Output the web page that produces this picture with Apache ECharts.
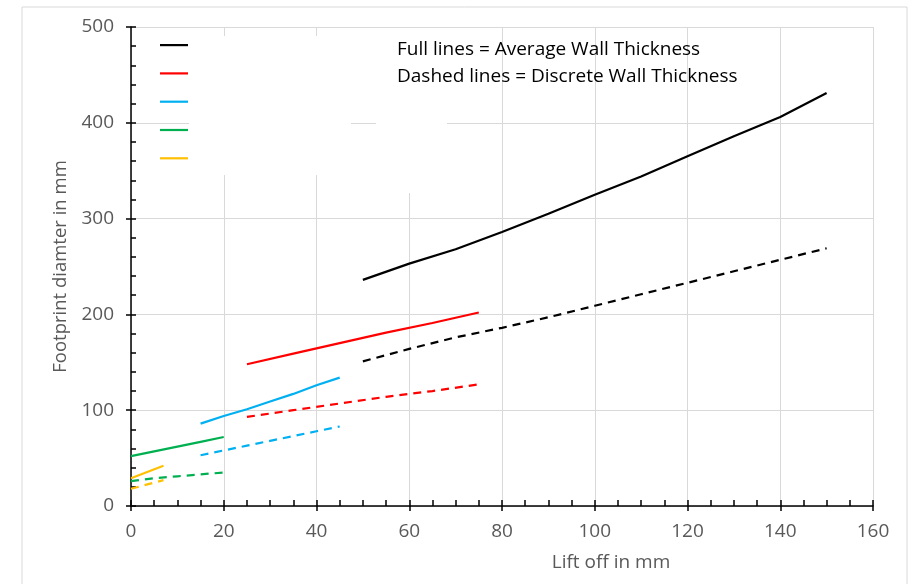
<!DOCTYPE html>
<html>
<head>
<meta charset="utf-8">
<script src="https://cdn.jsdelivr.net/npm/echarts@6/dist/echarts.min.js"></script>
<style>html,body{margin:0;padding:0;background:#fff}#c{width:910px;height:584px}</style>
</head>
<body>
<div id="c"></div>
<script>
// ---- data ----
const xTicks = [0, 20, 40, 60, 80, 100, 120, 140, 160];
const yTicks = [0, 100, 200, 300, 400, 500];

const liftBlack = [50, 60, 70, 80, 90, 100, 110, 120, 130, 140, 150];
const blackAvg  = [236, 253, 268, 286, 305, 325, 344, 365, 386, 406, 431];
const blackDisc = [151, 164, 176, 186, 197, 209, 221, 233, 245, 257, 269];

const liftRed = [25, 35, 45, 55, 65, 75];
const redAvg  = [148, 159, 170, 181, 191, 202];
const redDisc = [93, 100, 107, 114, 120, 127];

const liftBlue = [15, 20, 25, 30, 35, 40, 45];
const blueAvg  = [86, 94, 101, 109, 117, 126, 134];
const blueDisc = [53, 58, 63, 68, 73, 78, 83];

const liftGreen = [0, 5, 10, 15, 20];
const greenAvg  = [52, 57, 62, 67, 72];
const greenDisc = [26, 29, 31, 33, 35];

const liftYellow = [0, 7];
const yellowAvg  = [29, 42];
const yellowDisc = [18, 27];

const noteLines = ['Full lines = Average Wall Thickness', 'Dashed lines = Discrete Wall Thickness'];
const xName = 'Lift off in mm';
const yName = 'Footprint diamter in mm';

// ---- build ----
const pairs = (xs, ys) => xs.map((x, i) => [x, ys[i]]);
const groups = [
  {key: 'Black',  color: '#000000', x: liftBlack,  avg: blackAvg,  disc: blackDisc},
  {key: 'Red',    color: '#ff0000', x: liftRed,    avg: redAvg,    disc: redDisc},
  {key: 'Blue',   color: '#00b0f0', x: liftBlue,   avg: blueAvg,   disc: blueDisc},
  {key: 'Green',  color: '#00b050', x: liftGreen,  avg: greenAvg,  disc: greenDisc},
  {key: 'Yellow', color: '#ffc000', x: liftYellow, avg: yellowAvg, disc: yellowDisc}
];
const series = [];
groups.forEach(g => {
  series.push({name: g.key + ' average', type: 'line', symbol: 'none', z: 3,
    data: pairs(g.x, g.avg), lineStyle: {color: g.color, width: 2.2}, itemStyle: {color: g.color}});
});
groups.forEach(g => {
  series.push({name: g.key + ' discrete', type: 'line', symbol: 'none', z: 3,
    data: pairs(g.x, g.disc), lineStyle: {color: g.color, width: 2.2, type: [8, 6]}, itemStyle: {color: g.color}});
});

const font = '"Open Sans", sans-serif';
const labelColor = '#595959';
const axisColor = '#000000';

const chart = echarts.init(document.getElementById('c'));
chart.setOption({
  animation: false,
  backgroundColor: '#ffffff',
  grid: {left: 131, right: 37, top: 27, bottom: 78},
  title: {
    text: noteLines.join('\n'), left: 392, top: 31, padding: 5,
    textStyle: {fontFamily: font, fontSize: 19, fontWeight: 'normal', color: '#000000', lineHeight: 27}
  },
  legend: {
    orient: 'vertical', left: 160, top: 44, padding: 0, icon: 'rect', itemWidth: 28, itemHeight: 2.2, itemGap: 26.1,
    data: groups.map(g => g.key + ' average'),
    formatter: () => '',
    textStyle: {fontSize: 1, lineHeight: 1}
  },
  graphic: [
    {type: 'rect', z: -10, silent: true, shape: {x: 22, y: 7, width: 885, height: 620}, style: {fill: 'none', stroke: '#d9d9d9', lineWidth: 1}},
    {type: 'rect', z: 1, silent: true, shape: {x: 189, y: 36, width: 162, height: 139}, style: {fill: '#ffffff'}},
    {type: 'rect', z: 1, silent: true, shape: {x: 376, y: 28, width: 71, height: 165}, style: {fill: '#ffffff'}}
  ],
  xAxis: [{
    type: 'value', min: 0, max: 160, interval: 20, position: 'bottom',
    name: xName, nameLocation: 'middle', nameGap: 47,
    nameTextStyle: {fontFamily: font, fontSize: 19, color: labelColor, padding: [0, 0, 0, 218]},
    axisLine: {show: true, lineStyle: {color: axisColor, width: 1.5}},
    axisTick: {show: true, inside: false, length: 5, lineStyle: {color: axisColor, width: 1.5}},
    axisLabel: {fontFamily: font, fontSize: 19, color: labelColor, margin: 16},
    splitLine: {show: true, lineStyle: {color: '#d9d9d9', width: 1}}
  }, {
    type: 'value', min: 0, max: 160, interval: 20, position: 'bottom',
    axisLine: {show: false},
    axisTick: {show: true, inside: true, length: 6, lineStyle: {color: axisColor, width: 1.5}},
    minorTick: {show: true, splitNumber: 4, length: 6, lineStyle: {color: axisColor, width: 1.5}},
    axisLabel: {show: false},
    splitLine: {show: false}
  }],
  yAxis: [{
    type: 'value', min: 0, max: 500, interval: 100, position: 'left',
    name: yName, nameLocation: 'middle', nameGap: 57,
    nameTextStyle: {fontFamily: font, fontSize: 18.5, color: labelColor},
    axisLine: {show: true, lineStyle: {color: axisColor, width: 1.5}},
    axisTick: {show: true, inside: false, length: 5, lineStyle: {color: axisColor, width: 1.5}},
    axisLabel: {fontFamily: font, fontSize: 19, color: labelColor, margin: 17},
    splitLine: {show: true, lineStyle: {color: '#d9d9d9', width: 1}}
  }, {
    type: 'value', min: 0, max: 500, interval: 100, position: 'left',
    axisLine: {show: false},
    axisTick: {show: true, inside: true, length: 5, lineStyle: {color: axisColor, width: 1.5}},
    minorTick: {show: true, splitNumber: 5, length: 5, lineStyle: {color: axisColor, width: 1.5}},
    axisLabel: {show: false},
    splitLine: {show: false}
  }],
  series: series
});
</script>
</body>
</html>
